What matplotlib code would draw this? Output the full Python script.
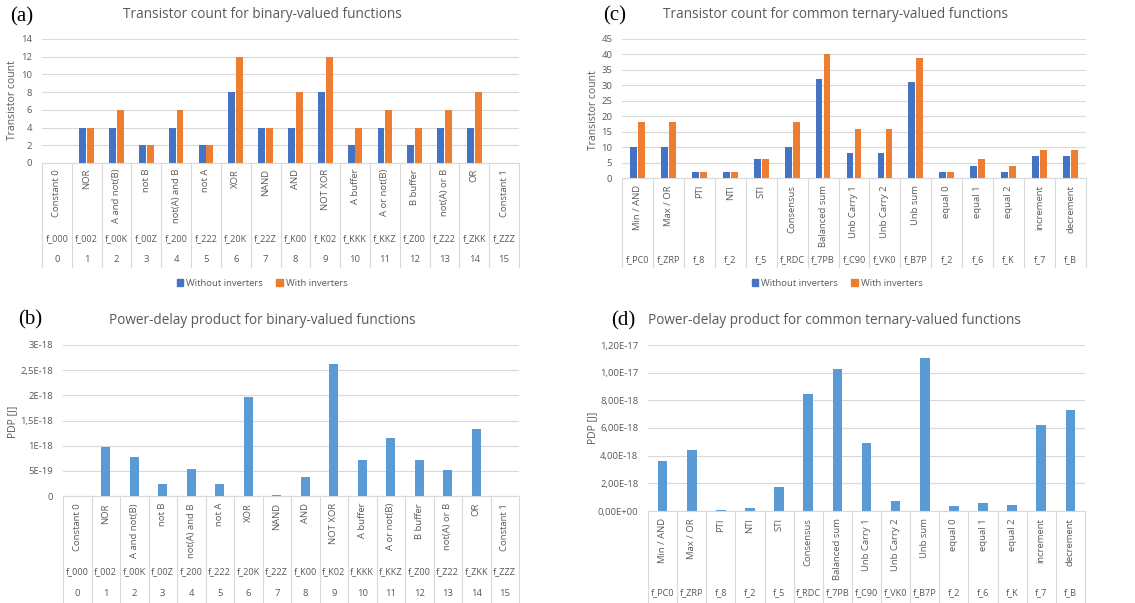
import numpy as np
import matplotlib
matplotlib.use("Agg")
import matplotlib.pyplot as plt
from matplotlib.transforms import blended_transform_factory
from matplotlib.patches import Patch

# ---- data ----
bin_names = ["Constant 0", "NOR", "A and not(B)", "not B", "not(A) and B", "not A",
             "XOR", "NAND", "AND", "NOT XOR", "A buffer", "A or not(B)", "B buffer",
             "not(A) or B", "OR", "Constant 1"]
bin_codes = ["f_000", "f_002", "f_00K", "f_00Z", "f_200", "f_222", "f_20K", "f_22Z",
             "f_K00", "f_K02", "f_KKK", "f_KKZ", "f_Z00", "f_Z22", "f_ZKK", "f_ZZZ"]
bin_nums = [str(i) for i in range(16)]
bin_without = [0, 4, 4, 2, 4, 2, 8, 4, 4, 8, 2, 4, 2, 4, 4, 0]
bin_with = [0, 4, 6, 2, 6, 2, 12, 4, 8, 12, 4, 6, 4, 6, 8, 0]
bin_pdp = [0, 0.98e-18, 0.775e-18, 0.238e-18, 0.536e-18, 0.24e-18, 1.967e-18, 0.02e-18,
           0.377e-18, 2.616e-18, 0.715e-18, 1.159e-18, 0.715e-18, 0.523e-18, 1.338e-18, 0]

ter_names = ["Min / AND", "Max / OR", "PTI", "NTI", "STI", "Consensus", "Balanced sum",
             "Unb Carry 1", "Unb Carry 2", "Unb sum", "equal 0", "equal 1", "equal 2",
             "increment", "decrement"]
ter_codes = ["f_PC0", "f_ZRP", "f_8", "f_2", "f_5", "f_RDC", "f_7PB", "f_C90", "f_VK0",
             "f_B7P", "f_2", "f_6", "f_K", "f_7", "f_B"]
ter_without = [10, 10, 2, 2, 6, 10, 32, 8, 8, 31, 2, 4, 2, 7, 7]
ter_with = [18, 18, 2, 2, 6, 18, 40, 16, 16, 39, 2, 6, 4, 9, 9]
ter_pdp = [3.64e-18, 4.39e-18, 0.07e-18, 0.19e-18, 1.73e-18, 8.43e-18, 10.29e-18,
           4.94e-18, 0.70e-18, 11.04e-18, 0.39e-18, 0.60e-18, 0.43e-18, 6.24e-18, 7.30e-18]

bin_pdp_ticks = [0, 0.5e-18, 1e-18, 1.5e-18, 2e-18, 2.5e-18, 3e-18]
bin_pdp_ticklabels = ["0", "5E-19", "1E-18", "1,5E-18", "2E-18", "2,5E-18", "3E-18"]
ter_pdp_ticks = [0, 2e-18, 4e-18, 6e-18, 8e-18, 10e-18, 12e-18]
ter_pdp_ticklabels = ["0,00E+00", "2,00E-18", "4,00E-18", "6,00E-18", "8,00E-18",
                      "1,00E-17", "1,20E-17"]

BLUE = "#4472C4"
ORANGE = "#ED7D31"
LBLUE = "#5B9BD5"
GRAY = "#595959"
GRID = "#D9D9D9"
FS = 6.8

plt.rcParams['font.family'] = ['Open Sans', 'DejaVu Sans']

W, H = 1135, 603
fig = plt.figure(figsize=(W / 100, H / 100), dpi=100)


def px_axes(x0, y0, x1, y1):
    return fig.add_axes([x0 / W, 1 - y1 / H, (x1 - x0) / W, (y1 - y0) / H])


def fy(y):
    return 1 - y / H


def style(ax, ymax, ticks, ticklabels=None):
    ax.set_ylim(0, ymax)
    ax.set_yticks(ticks)
    if ticklabels is not None:
        ax.set_yticklabels(ticklabels)
    ax.yaxis.grid(True, color=GRID, linewidth=0.8)
    ax.set_axisbelow(True)
    for s in ["top", "right", "left"]:
        ax.spines[s].set_visible(False)
    ax.spines["bottom"].set_color(GRID)
    ax.tick_params(axis='y', length=0, labelsize=FS, labelcolor=GRAY, pad=7)
    ax.set_xticks([])


def cats(ax, names, codes, nums, name_top, code_y, num_y, sep_bottom):
    n = len(names)
    ax.set_xlim(-0.5, n - 0.5)
    tr = blended_transform_factory(ax.transData, fig.transFigure)
    for i in range(n + 1):
        ax.plot([i - 0.5, i - 0.5], [fy(sep_bottom), ax.get_position().y0], transform=tr,
                color=GRID, lw=0.8, clip_on=False)
    for i in range(n):
        ax.text(i, fy(name_top), names[i], rotation=90, ha='center', va='top',
                fontsize=FS, color=GRAY, transform=tr)
        ax.text(i, fy(code_y), codes[i], ha='center', va='center', fontsize=FS - 0.2,
                color=GRAY, transform=tr)
        if nums is not None:
            ax.text(i, fy(num_y), nums[i], ha='center', va='center', fontsize=FS,
                    color=GRAY, transform=tr)


def heading(x, y, title, letter_x, letter_y, letter):
    fig.text(x / W, fy(y), title, ha='center', va='center', fontsize=9.8, color=GRAY)
    fig.text(letter_x / W, fy(letter_y), letter, ha='center', va='center', fontsize=15,
             family='Liberation Serif', color='black')


def legend(xc):
    fig.legend(handles=[Patch(color=BLUE, label='Without inverters'),
                        Patch(color=ORANGE, label='With inverters')],
               loc='center', bbox_to_anchor=(xc / W, fy(283)), ncol=2, frameon=False,
               fontsize=FS, labelcolor=GRAY, handlelength=0.7, handleheight=0.7,
               handletextpad=0.3, columnspacing=1.4)


# (a) transistor count, binary
ax = px_axes(42, 39, 519, 163)
x = np.arange(len(bin_names))
ax.bar(x - 0.13, bin_without, width=0.23, color=BLUE)
ax.bar(x + 0.13, bin_with, width=0.23, color=ORANGE)
style(ax, 14, range(0, 15, 2))
cats(ax, bin_names, bin_codes, bin_nums, 169, 239, 260, 267)
fig.text(13 / W, fy(100), "Transistor count", rotation=90, ha='center', va='center',
         fontsize=7.5, color=GRAY)
heading(262, 15, "Transistor count for binary-valued functions", 22, 17, "(a)")
legend(262)

# (c) transistor count, ternary
ax = px_axes(622, 39, 1086, 178)
x = np.arange(len(ter_names))
ax.bar(x - 0.13, ter_without, width=0.22, color=BLUE)
ax.bar(x + 0.13, ter_with, width=0.22, color=ORANGE)
style(ax, 45, range(0, 46, 5))
cats(ax, ter_names, ter_codes, None, 185, 260, None, 267)
fig.text(593 / W, fy(110), "Transistor count", rotation=90, ha='center', va='center',
         fontsize=7.5, color=GRAY)
heading(835, 15, "Transistor count for common ternary-valued functions", 615, 16, "(c)")
legend(837)

# (b) PDP, binary
ax = px_axes(63, 345, 519, 496)
x = np.arange(len(bin_names))
ax.bar(x, bin_pdp, width=0.33, color=LBLUE)
style(ax, 3e-18, bin_pdp_ticks, bin_pdp_ticklabels)
cats(ax, bin_names, bin_codes, bin_nums, 503, 572, 593, 603)
fig.text(13 / W, fy(422), "PDP [J]", rotation=90, ha='center', va='center',
         fontsize=7.5, color=GRAY)
heading(262, 321, "Power-delay product for binary-valued functions", 30, 320, "(b)")

# (d) PDP, ternary
ax = px_axes(648, 345, 1085, 511)
x = np.arange(len(ter_names))
ax.bar(x, ter_pdp, width=0.33, color=LBLUE)
style(ax, 12e-18, ter_pdp_ticks, ter_pdp_ticklabels)
cats(ax, ter_names, ter_codes, None, 518, 593, None, 603)
fig.text(593 / W, fy(428), "PDP [J]", rotation=90, ha='center', va='center',
         fontsize=7.5, color=GRAY)
heading(834, 321, "Power-delay product for common ternary-valued functions", 623, 321, "(d)")

fig.savefig("out.png", dpi=100)
